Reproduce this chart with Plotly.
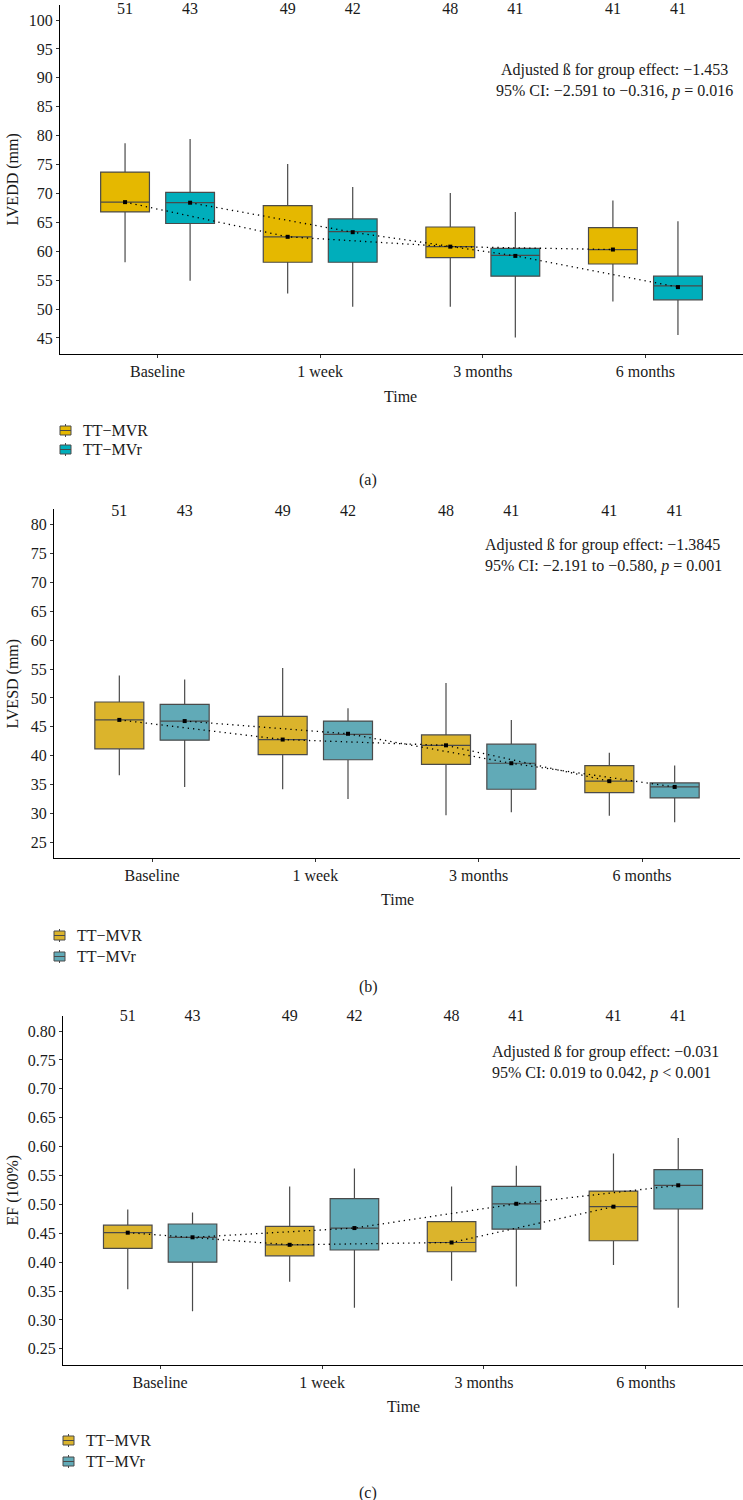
import plotly.graph_objects as go

W, H = 743, 1500

times = ["Baseline", "1 week", "3 months", "6 months"]
groups = ["TT\u2212MVR", "TT\u2212MVr"]
n_mvr = [51, 49, 48, 41]
n_mvr_r = [43, 42, 41, 41]

# Panel (a) LVEDD
a_mvr_low = [58.1, 52.7, 50.4, 51.3]
a_mvr_q1 = [66.8, 58.1, 58.9, 57.8]
a_mvr_med = [68.5, 62.5, 60.8, 60.3]
a_mvr_q3 = [73.7, 67.9, 64.2, 64.1]
a_mvr_high = [78.7, 75.1, 70.1, 68.8]
a_mvr_mean = [68.5, 62.5, 60.8, 60.3]
a_mvrr_low = [54.9, 50.4, 45.1, 45.5]
a_mvrr_q1 = [64.8, 58.1, 55.7, 51.6]
a_mvrr_med = [68.4, 63.4, 59.3, 54.0]
a_mvrr_q3 = [70.2, 65.6, 60.5, 55.7]
a_mvrr_high = [79.4, 71.1, 66.8, 65.2]
a_mvrr_mean = [68.4, 63.3, 59.2, 53.8]

# Panel (b) LVESD
b_mvr_low = [36.6, 34.2, 29.7, 29.6]
b_mvr_q1 = [41.2, 40.2, 38.5, 33.6]
b_mvr_med = [46.2, 42.8, 41.8, 35.6]
b_mvr_q3 = [49.3, 46.8, 43.6, 38.3]
b_mvr_high = [53.9, 55.2, 52.6, 40.5]
b_mvr_mean = [46.2, 42.8, 41.8, 35.6]
b_mvrr_low = [34.6, 32.5, 30.2, 28.5]
b_mvrr_q1 = [42.7, 39.3, 34.2, 32.7]
b_mvrr_med = [46.0, 43.7, 38.7, 34.6]
b_mvrr_q3 = [48.9, 46.0, 42.0, 35.3]
b_mvrr_high = [53.2, 48.2, 46.2, 38.3]
b_mvrr_mean = [46.0, 43.8, 38.7, 34.6]

# Panel (c) EF
c_mvr_low = [0.353, 0.366, 0.368, 0.395]
c_mvr_q1 = [0.424, 0.411, 0.418, 0.437]
c_mvr_med = [0.451, 0.430, 0.434, 0.496]
c_mvr_q3 = [0.464, 0.462, 0.470, 0.523]
c_mvr_high = [0.491, 0.531, 0.531, 0.588]
c_mvr_mean = [0.451, 0.430, 0.434, 0.496]
c_mvrr_low = [0.315, 0.321, 0.358, 0.321]
c_mvrr_q1 = [0.400, 0.421, 0.457, 0.492]
c_mvrr_med = [0.443, 0.459, 0.501, 0.533]
c_mvrr_q3 = [0.466, 0.510, 0.531, 0.560]
c_mvrr_high = [0.486, 0.562, 0.567, 0.615]
c_mvrr_mean = [0.443, 0.459, 0.501, 0.533]

a_yticks = [45, 50, 55, 60, 65, 70, 75, 80, 85, 90, 95, 100]
b_yticks = [25, 30, 35, 40, 45, 50, 55, 60, 65, 70, 75, 80]
c_yticks = [0.25, 0.30, 0.35, 0.40, 0.45, 0.50, 0.55, 0.60, 0.65, 0.70, 0.75, 0.80]

# y level (data units) where the sample sizes are written
a_count_level = 101.75
b_count_level = 82.25
c_count_level = 0.8237

stat_a = "Adjusted \u00df for group effect: \u22121.453<br>95% CI: \u22122.591 to \u22120.316, <i>p</i> = 0.016"
stat_b = "Adjusted \u00df for group effect: \u22121.3845<br>95% CI: \u22122.191 to \u22120.580, <i>p</i> = 0.001"
stat_c = "Adjusted \u00df for group effect: \u22120.031<br>95% CI: 0.019 to 0.042, <i>p</i> &lt; 0.001"

FONT = "Liberation Serif"
FS = 16
TXT = "#1a1a1a"
EDGE = "#4a4a4a"


def px(x):
    return x / W


def py(y):
    return 1 - y / H


panels = [
    dict(key="", data=[
        (a_mvr_low, a_mvr_q1, a_mvr_med, a_mvr_q3, a_mvr_high, a_mvr_mean),
        (a_mvrr_low, a_mvrr_q1, a_mvrr_med, a_mvrr_q3, a_mvrr_high, a_mvrr_mean)],
        counts_at=a_count_level,
        colors=["#E5B800", "#00AEBB"], x0=60, x1=743, y0=5, y1=354,
        yr=[42.23, 102.6], yt=a_yticks, fmt="d", ytitle="LVEDD (mm)",
        stat=stat_a, stat_x=614, stat_y=80, stat_align="center",
        time_x=400, time_y=396, leg_x=60, leg_ys=[430.5, 449.5], tag="(a)", tag_y=480),
    dict(key="2", data=[
        (b_mvr_low, b_mvr_q1, b_mvr_med, b_mvr_q3, b_mvr_high, b_mvr_mean),
        (b_mvrr_low, b_mvrr_q1, b_mvrr_med, b_mvrr_q3, b_mvrr_high, b_mvrr_mean)],
        counts_at=b_count_level,
        colors=["#DBB42C", "#61AAB7"], x0=54, x1=740, y0=509, y1=858,
        yr=[22.3, 82.7], yt=b_yticks, fmt="d", ytitle="LVESD (mm)",
        stat=stat_b, stat_x=483, stat_y=555, stat_align="left",
        time_x=397, time_y=899, leg_x=54, leg_ys=[935.5, 956.5], tag="(b)", tag_y=987),
    dict(key="3", data=[
        (c_mvr_low, c_mvr_q1, c_mvr_med, c_mvr_q3, c_mvr_high, c_mvr_mean),
        (c_mvrr_low, c_mvrr_q1, c_mvrr_med, c_mvrr_q3, c_mvrr_high, c_mvrr_mean)],
        counts_at=c_count_level,
        colors=["#DBB42C", "#61AAB7"], x0=63, x1=743, y0=1016, y1=1365,
        yr=[0.222, 0.826], yt=c_yticks, fmt=".2f", ytitle="EF (100%)",
        stat=stat_c, stat_x=490, stat_y=1062, stat_align="left",
        time_x=403, time_y=1406, leg_x=63, leg_ys=[1440.5, 1461.5], tag="(c)", tag_y=1493),
]

OFFS = [-0.2, 0.2]
fig = go.Figure()
annotations = []
shapes = []
layout = {}

for p in panels:
    xa = "x" + p["key"]
    ya = "y" + p["key"]
    for gi, (stats, col) in enumerate(zip(p["data"], p["colors"])):
        low, q1, med, q3, high, mean = stats
        xs = [i + OFFS[gi] for i in range(len(times))]
        fig.add_trace(go.Box(
            x=xs, q1=q1, median=med, q3=q3, lowerfence=low, upperfence=high,
            width=0.3, whiskerwidth=0, fillcolor=col,
            line=dict(color=EDGE, width=1.2), boxpoints=False,
            name=groups[gi], xaxis=xa, yaxis=ya, showlegend=False,
        ))
    for gi, stats in enumerate(p["data"]):
        mean = stats[5]
        xs = [i + OFFS[gi] for i in range(len(times))]
        fig.add_trace(go.Scatter(
            x=xs, y=mean, mode="lines+markers",
            line=dict(color="black", width=1.3, dash="1.3px,4px"),
            marker=dict(symbol="square", size=4, color="black"),
            showlegend=False, xaxis=xa, yaxis=ya, hoverinfo="skip",
        ))
    # sample sizes
    for gi, nn in enumerate([n_mvr, n_mvr_r]):
        xs = [i + OFFS[gi] for i in range(len(times))]
        fig.add_trace(go.Scatter(
            x=xs, y=[p["counts_at"]] * len(times), mode="text",
            text=[str(v) for v in nn], textposition="middle center",
            textfont=dict(family=FONT, size=FS, color=TXT), cliponaxis=False,
            showlegend=False, xaxis=xa, yaxis=ya, hoverinfo="skip",
        ))

    xname = "xaxis" + p["key"]
    yname = "yaxis" + p["key"]
    layout[xname] = dict(
        domain=[px(p["x0"]), px(p["x1"])], anchor=ya, range=[-0.6, 3.6],
        tickmode="array", tickvals=[0, 1, 2, 3], ticktext=times,
        showline=True, linecolor="black", linewidth=1.2, ticks="outside",
        ticklen=3, tickcolor="#333", showgrid=False, zeroline=False,
        tickfont=dict(family=FONT, size=FS, color=TXT), fixedrange=True,
    )
    layout[yname] = dict(
        domain=[py(p["y1"]), py(p["y0"])], anchor=xa, range=p["yr"],
        tickmode="array", tickvals=p["yt"], tickformat=p["fmt"],
        showline=True, linecolor="black", linewidth=1.2, ticks="outside",
        ticklen=3, tickcolor="#333", showgrid=False, zeroline=False,
        tickfont=dict(family=FONT, size=FS, color=TXT), fixedrange=True,
    )

    # legend (drawn key)
    for gi, (col, ly) in enumerate(zip(p["colors"], p["leg_ys"])):
        lx = p["leg_x"]
        shapes.append(dict(type="line", xref="paper", yref="paper",
                           x0=px(lx + 5.5), x1=px(lx + 5.5), y0=py(ly - 6.5), y1=py(ly + 6.5),
                           line=dict(color=EDGE, width=1)))
        shapes.append(dict(type="rect", xref="paper", yref="paper",
                           x0=px(lx), x1=px(lx + 11), y0=py(ly - 4.5), y1=py(ly + 4.5),
                           fillcolor=col, line=dict(color=EDGE, width=1)))
        shapes.append(dict(type="line", xref="paper", yref="paper",
                           x0=px(lx), x1=px(lx + 11), y0=py(ly), y1=py(ly),
                           line=dict(color=EDGE, width=1)))
        annotations.append(dict(
            x=px(lx + 21), y=py(ly), xref="paper", yref="paper", text=groups[gi],
            showarrow=False, xanchor="left", yanchor="middle",
            font=dict(family=FONT, size=FS, color=TXT)))

    # stat text
    annotations.append(dict(
        x=px(p["stat_x"]), y=py(p["stat_y"]), xref="paper", yref="paper",
        text=p["stat"], showarrow=False,
        xanchor="center" if p["stat_align"] == "center" else "left",
        yanchor="middle", align=p["stat_align"],
        font=dict(family=FONT, size=FS, color=TXT)))
    # y title
    annotations.append(dict(
        x=px(12), y=py((p["y0"] + p["y1"]) / 2), xref="paper", yref="paper",
        text=p["ytitle"], textangle=-90, showarrow=False,
        xanchor="center", yanchor="middle",
        font=dict(family=FONT, size=FS, color=TXT)))
    # x title
    annotations.append(dict(
        x=px(p["time_x"]), y=py(p["time_y"]), xref="paper", yref="paper",
        text="Time", showarrow=False, xanchor="center", yanchor="middle",
        font=dict(family=FONT, size=FS, color=TXT)))
    # panel tag
    annotations.append(dict(
        x=px(368), y=py(p["tag_y"]), xref="paper", yref="paper",
        text=p["tag"], showarrow=False, xanchor="center", yanchor="middle",
        font=dict(family=FONT, size=FS, color=TXT)))

fig.update_layout(
    width=W, height=H, margin=dict(l=0, r=0, t=0, b=0),
    paper_bgcolor="white", plot_bgcolor="white", boxmode="overlay",
    showlegend=False, annotations=annotations, shapes=shapes, **layout,
)

fig.write_html("out.html")
